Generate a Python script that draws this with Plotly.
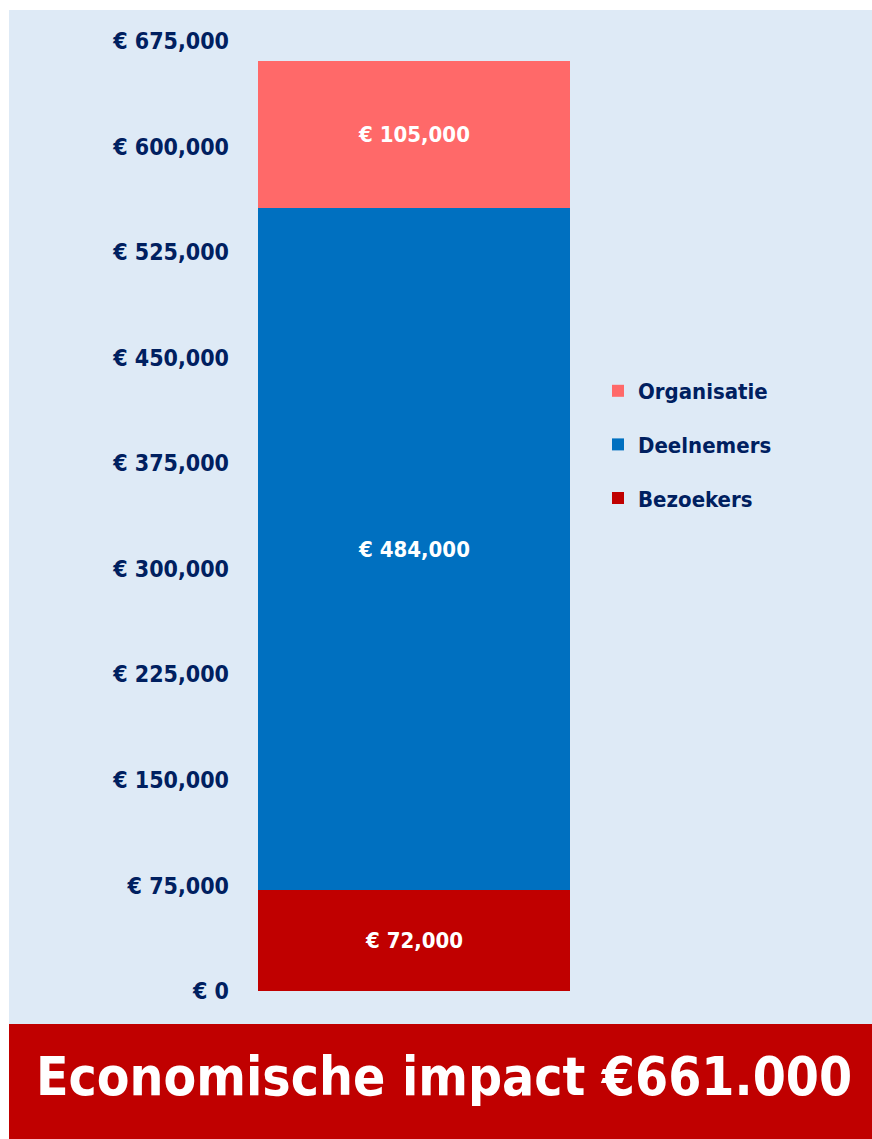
import plotly.graph_objects as go

categories = ["Economische impact"]
series_names = ["Bezoekers", "Deelnemers", "Organisatie"]
series_values = [[72000], [484000], [105000]]
series_colors = ["#C00000", "#0070C0", "#FF6969"]
legend_ranks = [3, 2, 1]
tick_values = [0, 75000, 150000, 225000, 300000, 375000, 450000, 525000, 600000, 675000]
tick_labels = ["€ 0", "€ 75,000", "€ 150,000", "€ 225,000", "€ 300,000",
               "€ 375,000", "€ 450,000", "€ 525,000", "€ 600,000", "€ 675,000"]
banner_text = "Economische impact €661.000"

FONT = "DejaVu Sans Condensed, Liberation Sans Narrow, sans-serif"
NAVY = "#002060"

OFF = 0  # page body margin removed via post_script
W, H = 872 - OFF, 1139 - OFF
# plot area in reference pixels
PL, PR, PT, PB = 240, 600, 41, 991
L, R, T, B = PL - OFF, W - (PR - OFF), PT - OFF, H - (PB - OFF)
PW, PH = PR - PL, PB - PT


def px(x):
    return (x - PL) / PW


def py(y):
    return (PB - y) / PH


fig = go.Figure()
for name, vals, col, rk in zip(series_names, series_values, series_colors, legend_ranks):
    fig.add_trace(go.Bar(
        x=[0], y=vals, name=name, marker=dict(color=col, line=dict(width=0)),
        width=[1.0],
        texttemplate="€ %{y:,}", textposition="inside", insidetextanchor="middle",
        textfont=dict(family=FONT, size=22, color="white", weight="bold"),
        legendgroup=name, legendrank=rk, hoverinfo="skip",
    ))

# bar spans 258..570 px (reference)
unit = 312.0
cx = 414
x0 = -(cx - PL) / unit
x1 = (PR - cx) / unit

fig.update_layout(
    width=W, height=H, barmode="stack",
    margin=dict(l=L, r=R, t=T, b=B, autoexpand=False),
    paper_bgcolor="white", plot_bgcolor="rgba(0,0,0,0)",
    showlegend=True,
    legend=dict(
        x=px(598), y=py(370), xanchor="left", yanchor="top",
        traceorder="grouped", tracegroupgap=22,
        font=dict(family=FONT, size=22, color=NAVY, weight="bold"),
        bgcolor="rgba(0,0,0,0)",
    ),
    xaxis=dict(range=[x0, x1], showticklabels=False, showgrid=False,
               zeroline=False, showline=False, fixedrange=True),
    yaxis=dict(range=[0, 675000], tickvals=tick_values, ticktext=tick_labels,
               showgrid=False, zeroline=False, showline=False,
               ticks="", ticklabelstandoff=10,
               tickfont=dict(family=FONT, size=23, color=NAVY, weight="bold")),
    shapes=[
        dict(type="rect", xref="paper", yref="paper", layer="below",
             x0=px(9), x1=px(880), y0=py(1024), y1=py(10),
             fillcolor="#DEEAF6", line=dict(width=0)),
        dict(type="rect", xref="paper", yref="paper", layer="below",
             x0=px(9), x1=px(880), y0=py(1145), y1=py(1024),
             fillcolor="#C00000", line=dict(width=0)),
    ],
    annotations=[
        dict(text=banner_text, xref="paper", yref="paper",
             x=px(444), y=py(1076), xanchor="center", yanchor="middle",
             showarrow=False,
             font=dict(family=FONT, size=53, color="white", weight="bold")),
    ],
)

fig.write_html(
    "out.html",
    config={"displayModeBar": False, "staticPlot": True},
    post_script="document.body.style.margin='0';document.body.style.overflow='hidden';",
)
